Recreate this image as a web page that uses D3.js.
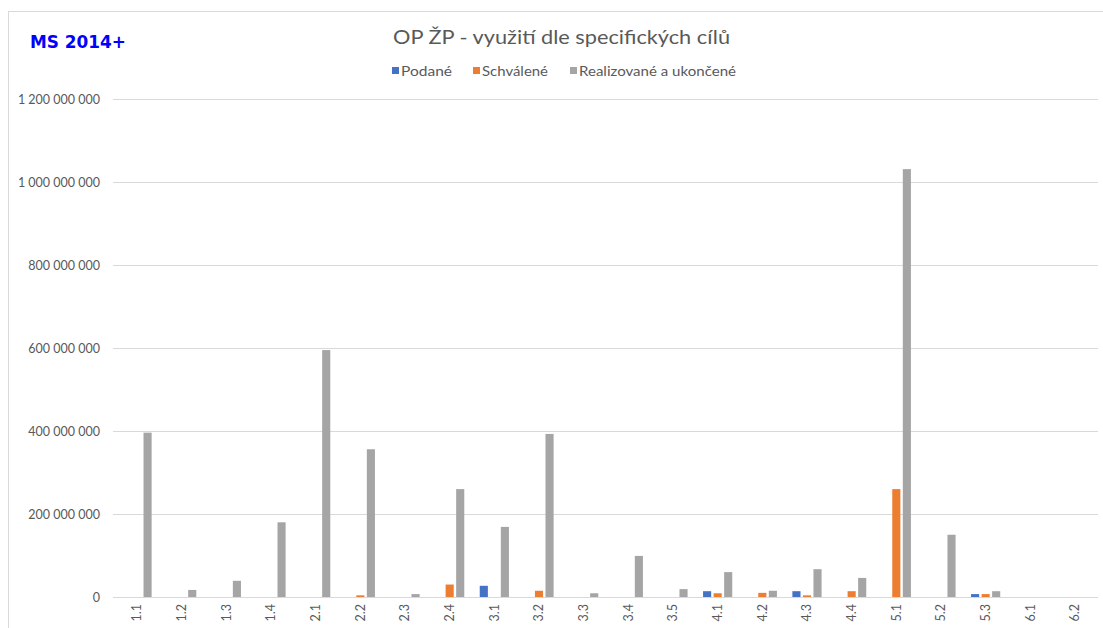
<!DOCTYPE html>
<html><head><meta charset="utf-8">
<script src="https://cdn.jsdelivr.net/npm/d3@7"></script>
<style>body{margin:0;background:#fff;}svg{display:block;}</style>
</head><body>
<script>
const categories = ["1.1","1.2","1.3","1.4","2.1","2.2","2.3","2.4","3.1","3.2","3.3","3.4","3.5","4.1","4.2","4.3","4.4","5.1","5.2","5.3","6.1","6.2"];
const seriesNames = ["Podané","Schválené","Realizované a ukončené"];
const podane =     [0,0,0,0,0,0,0,0,27e6,0,0,0,0,14e6,0,14e6,0,0,0,7e6,0,0];
const schvalene =  [0,0,0,0,0,4e6,0,30e6,0,15e6,0,0,0,9e6,10e6,4e6,14e6,260e6,0,7e6,0,0];
const realizovane =[396e6,17e6,39e6,180e6,595e6,356e6,7e6,260e6,169e6,393e6,9e6,99e6,19e6,60e6,15e6,67e6,46e6,1031e6,150e6,14e6,0,0];
const yTicks = [0,200e6,400e6,600e6,800e6,1000e6,1200e6];
const colors = ["#4472c4","#ed7d31","#a5a5a5"];

const W = 1103, H = 628;
const svg = d3.select("body").append("svg").attr("width", W).attr("height", H);
const font = "'Century Gothic', Lato, 'Open Sans', sans-serif";

svg.append("rect").attr("x",8.5).attr("y",11.5).attr("width",1110).attr("height",640)
  .attr("fill","#fff").attr("stroke","#d9d9d9");

const x0 = d3.scaleBand().domain(categories).range([114.7, 1097.3]).paddingInner(0).paddingOuter(0);
const x1 = d3.scaleBand().domain(seriesNames).range([-14.6, 14.6]).paddingInner(0.23).paddingOuter(0);
const y = d3.scaleLinear().domain([0, 1200e6]).range([597, 99]);

const fmt = v => d3.format(",")(v).replace(/,/g, " ");

const yAxis = d3.axisLeft(y).tickValues(yTicks).tickFormat(fmt).tickSize(0).tickPadding(0);
const ga = svg.append("g").attr("transform","translate(100,0)").call(yAxis);
ga.select(".domain").remove();
ga.selectAll("text").attr("fill","#595959").attr("font-size","12.5px").attr("font-family",font).attr("x",0);
svg.append("g").selectAll("line").data(yTicks.slice(1)).join("line")
  .attr("x1",113).attr("x2",1098).attr("y1",d=>Math.round(y(d))+0.5).attr("y2",d=>Math.round(y(d))+0.5)
  .attr("stroke","#d9d9d9").attr("stroke-width",1);

const data = [podane, schvalene, realizovane];
const g = svg.append("g");
categories.forEach((c,i)=>{
  const cx = x0(c) + x0.bandwidth()/2;
  seriesNames.forEach((s,k)=>{
    const v = data[k][i];
    if (v <= 0) return;
    g.append("rect").attr("x", cx + x1(s)).attr("width", x1.bandwidth())
      .attr("y", y(v)).attr("height", y(0)-y(v)).attr("fill", colors[k]);
  });
});

svg.append("line").attr("x1",113).attr("x2",1098).attr("y1",597.5).attr("y2",597.5).attr("stroke","#d9d9d9");

const xAxis = d3.axisBottom(x0).tickSize(0).tickPadding(0);
const gx = svg.append("g").attr("transform","translate(0,597)").call(xAxis);
gx.select(".domain").remove();
gx.selectAll("text").attr("fill","#595959").attr("font-size","12.5px").attr("font-family",font)
  .attr("transform","rotate(-90)").attr("text-anchor","end").attr("x",-7).attr("y",0).attr("dy","0.35em");

svg.append("text").attr("x",393).attr("y",44)
  .attr("font-family",font).attr("font-size","19px").attr("fill","#595959")
  .attr("textLength",337).attr("lengthAdjust","spacingAndGlyphs")
  .text("OP ŽP - využití dle specifických cílů");

svg.append("text").attr("x",30).attr("y",48).attr("font-family","Verdana, 'DejaVu Sans', sans-serif")
  .attr("font-weight","bold").attr("font-size","17.5px").attr("fill","#0000ff")
  .attr("textLength",96).attr("lengthAdjust","spacingAndGlyphs").text("MS 2014+");

const legX = [392, 473, 570];
const legLen = [51, 66, 157];
const lg = svg.append("g");
seriesNames.forEach((s,k)=>{
  lg.append("rect").attr("x",legX[k]).attr("y",67).attr("width",7).attr("height",7).attr("fill",colors[k]);
  lg.append("text").attr("x",legX[k]+9).attr("y",75.5).attr("font-family",font).attr("font-size","13px")
    .attr("fill","#595959").attr("textLength",legLen[k]).attr("lengthAdjust","spacingAndGlyphs").text(s);
});
</script>
</body></html>
